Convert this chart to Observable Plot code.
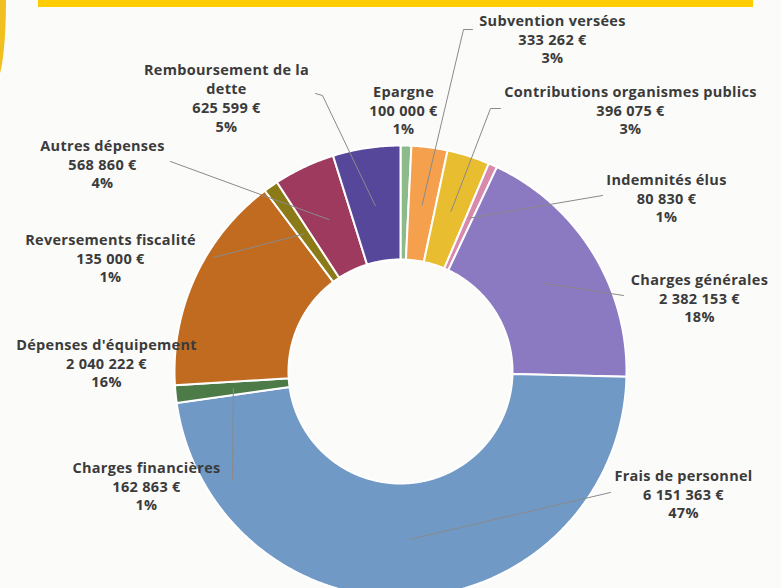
<!DOCTYPE html>
<html><head><meta charset="utf-8">
<script src="https://cdn.jsdelivr.net/npm/d3@7"></script>
<script src="https://cdn.jsdelivr.net/npm/@observablehq/plot@0.6"></script>
<style>
body{margin:0;background:#fbfbfa;}
#wrap{position:relative;width:781px;height:588px;overflow:hidden;background:#fbfbfa;}
.bar{position:absolute;left:38px;top:0;width:715px;height:7px;background:#ffcc00;}
.arc{position:absolute;left:-14px;top:-80px;width:20px;height:160px;border-radius:50%;background:#f0c020;}
#chart{position:absolute;left:0;top:0;}
#chart text{letter-spacing:0.3px;}
</style></head>
<body><div id="wrap"><div class="bar"></div><div class="arc"></div><div id="chart"></div></div>
<script>
// ---- data ----
const categories = [
  "Epargne", "Subvention versées", "Contributions organismes publics", "Indemnités élus",
  "Charges générales", "Frais de personnel", "Charges financières", "Dépenses d'équipement",
  "Reversements fiscalité", "Autres dépenses", "Remboursement de la dette"
];
const values = [100000, 333262, 396075, 80830, 2382153, 6151363, 162863, 2040222, 135000, 568860, 625599];
const colors = ["#8dba8a", "#f5a04c", "#e9bd30", "#d78aab", "#8b7ac1", "#7099c6", "#4c7b47", "#c06b20", "#8b7a18", "#9e3a5e", "#57479a"];

// ---- layout (page pixels) ----
const W = 781, H = 588, CX = 400, CY = 371, R0 = 112, R1 = 226, RL = 168;
const labelAt = {
  "Epargne": [403, 109],
  "Subvention versées": [552, 38],
  "Contributions organismes publics": [630, 109],
  "Indemnités élus": [666, 197],
  "Charges générales": [699, 297],
  "Frais de personnel": [683, 493],
  "Charges financières": [146, 485],
  "Dépenses d'équipement": [106, 362],
  "Reversements fiscalité": [110, 257],
  "Autres dépenses": [102, 163],
  "Remboursement de la dette": [226, 97]
};
const leaderFrom = {
  "Subvention versées": [[472, 29], [463, 29]],
  "Contributions organismes publics": [[500, 108], [490, 108]],
  "Indemnités élus": [[602, 195]],
  "Charges générales": [[623, 295]],
  "Frais de personnel": [[610, 492]],
  "Charges financières": [[232, 480]],
  "Reversements fiscalité": [[213, 257]],
  "Autres dépenses": [[170, 161]],
  "Remboursement de la dette": [[315, 93], [322, 95]]
};

const data = categories.map((name, i) => ({name, value: values[i]}));
const total = d3.sum(values);
const arcs = d3.pie().sort(null).value(d => d.value).startAngle(0).endAngle(2 * Math.PI)(data);

// slice polygons
const polys = [];
for (const a of arcs) {
  const n = Math.max(2, Math.ceil((a.endAngle - a.startAngle) / (Math.PI / 360)));
  const pts = [];
  for (let k = 0; k <= n; k++) { const t = a.startAngle + (a.endAngle - a.startAngle) * k / n; pts.push([R1 * Math.sin(t), -R1 * Math.cos(t)]); }
  for (let k = n; k >= 0; k--) { const t = a.startAngle + (a.endAngle - a.startAngle) * k / n; pts.push([R0 * Math.sin(t), -R0 * Math.cos(t)]); }
  pts.push(pts[0]);
  for (const [x, y] of pts) polys.push({name: a.data.name, x, y});
}

// leaders
const leaders = [];
for (const a of arcs) {
  const from = leaderFrom[a.data.name];
  if (!from) continue;
  const m = (a.startAngle + a.endAngle) / 2;
  for (const [px, py] of from) leaders.push({name: a.data.name, x: px - CX, y: py - CY});
  leaders.push({name: a.data.name, x: RL * Math.sin(m), y: -RL * Math.cos(m)});
}

// labels
const fmt = v => d3.format(",")(v).replace(/,/g, "\u00a0") + "\u00a0€";
const wrap = s => s === "Remboursement de la dette" ? "Remboursement de la\ndette" : s;
const labels = data.map(d => ({
  x: labelAt[d.name][0] - CX,
  y: labelAt[d.name][1] - CY,
  text: wrap(d.name) + "\n" + fmt(d.value) + "\n" + Math.round(d.value / total * 100) + "%"
}));

const chart = Plot.plot({
  width: W, height: H, margin: 0,
  style: {background: "transparent"},
  x: {domain: [-CX, W - CX], range: [0, W], axis: null},
  y: {domain: [-CY, H - CY], range: [0, H], axis: null},
  color: {domain: categories, range: colors},
  marks: [
    Plot.line(polys, {x: "x", y: "y", z: "name", fill: "name", stroke: "white", strokeWidth: 2, strokeLinejoin: "round"}),
    Plot.line(leaders, {x: "x", y: "y", z: "name", stroke: "#8a8a8a", strokeWidth: 1}),
    Plot.text(labels, {x: "x", y: "y", text: "text", fontSize: 14.5, fontWeight: "bold", lineHeight: 1.29,
      fill: "#3b3b3b", fontFamily: "Open Sans", textAnchor: "middle"})
  ]
});
document.getElementById("chart").appendChild(chart);
</script>
</body></html>
